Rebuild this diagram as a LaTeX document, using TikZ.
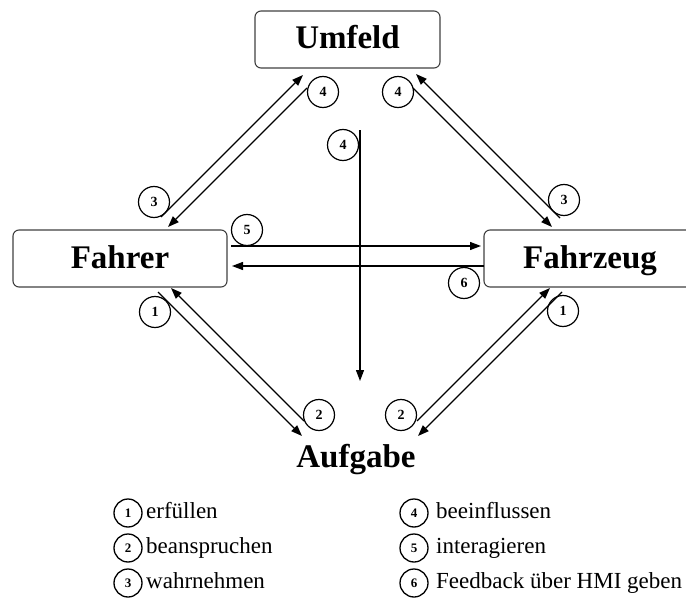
\documentclass[tikz,border=0pt]{standalone}
\usepackage{fontspec}
\setmainfont{Liberation Serif}
\usetikzlibrary{arrows.meta}
\begin{document}
\begin{tikzpicture}[x=1pt,y=-1pt,
  box/.style={draw=black!75, line width=1.1pt, rounded corners=6pt, font=\fontsize{33}{36}\selectfont\bfseries, text height=19pt, text depth=0pt, inner sep=0pt, minimum height=57pt},
  num/.style={circle, draw, line width=1.2pt, minimum size=31pt, inner sep=0pt, font=\fontsize{14}{14}\selectfont\bfseries},
  lnum/.style={circle, draw, line width=1.3pt, minimum size=28pt, inner sep=0pt, font=\fontsize{13}{13}\selectfont\bfseries},
  ltext/.style={anchor=base west, font=\fontsize{23}{25}\selectfont, inner sep=0pt},
  arr/.style={-{Triangle[length=11pt,width=8pt]}, line width=1.3pt}]
\useasboundingbox (0,0) rectangle (686,602);

% boxes
\node[box, minimum width=185pt] (umfeld) at (347.5,39.5) {Umfeld};
\node[box, minimum width=214pt] (fahrer) at (120,258.5) {Fahrer};
\node[box, minimum width=212pt] (fahrzeug) at (590,258.5) {Fahrzeug};
\node[anchor=base, inner sep=0pt, font=\fontsize{33}{36}\selectfont\bfseries] (aufgabe) at (356,467) {Aufgabe};

% arrow end points
\coordinate (ulA0) at (161,217); \coordinate (ulA1) at (303,75);
\coordinate (ulB0) at (307,88);  \coordinate (ulB1) at (168,227);
\coordinate (urC0) at (560,218); \coordinate (urC1) at (416,74);
\coordinate (urD0) at (413,88);  \coordinate (urD1) at (552,227);
\coordinate (llE0) at (158,292); \coordinate (llE1) at (302,436);
\coordinate (llF0) at (304,421); \coordinate (llF1) at (171,288);
\coordinate (lrG0) at (417,421); \coordinate (lrG1) at (550,288);
\coordinate (lrH0) at (562,292); \coordinate (lrH1) at (418,436);
\coordinate (h50) at (231,246);  \coordinate (h51) at (481,246);
\coordinate (h60) at (484,266);  \coordinate (h61) at (232,266);
\coordinate (v40) at (360,130);  \coordinate (v41) at (360,381);

\draw[arr] (ulA0) -- (ulA1);
\draw[arr] (ulB0) -- (ulB1);
\draw[arr] (urC0) -- (urC1);
\draw[arr] (urD0) -- (urD1);
\draw[arr] (llE0) -- (llE1);
\draw[arr] (llF0) -- (llF1);
\draw[arr] (lrG0) -- (lrG1);
\draw[arr] (lrH0) -- (lrH1);
\draw[arr] (h50) -- (h51);
\draw[arr] (h60) -- (h61);
\draw[arr] (v40) -- (v41);

% number circles
\node[num] (n4a) at (323,92) {4};
\node[num] (n4b) at (398,92) {4};
\node[num] (n4c) at (343,145) {4};
\node[num] (n3a) at (154,202) {3};
\node[num] (n3b) at (564,200) {3};
\node[num] (n5) at (247,230) {5};
\node[num] (n6) at (464,283) {6};
\node[num] (n1a) at (155,312) {1};
\node[num] (n1b) at (563,311) {1};
\node[num] (n2a) at (319,415) {2};
\node[num] (n2b) at (401,415) {2};

% legend
\node[lnum] (l1) at (128,513) {1};
\node[lnum] (l2) at (128,548) {2};
\node[lnum] (l3) at (128,583) {3};
\node[ltext] (t1) at (146,518.5) {erfüllen};
\node[ltext] (t2) at (146,553.5) {beanspruchen};
\node[ltext] (t3) at (146,588.5) {wahrnehmen};
\node[lnum] (l4) at (414,513) {4};
\node[lnum] (l5) at (414,548) {5};
\node[lnum] (l6) at (414,583) {6};
\node[ltext] (t4) at (436,518.5) {beeinflussen};
\node[ltext] (t5) at (436,553.5) {interagieren};
\node[ltext] (t6) at (436,588.5) {Feedback über HMI geben};
\end{tikzpicture}
\end{document}
